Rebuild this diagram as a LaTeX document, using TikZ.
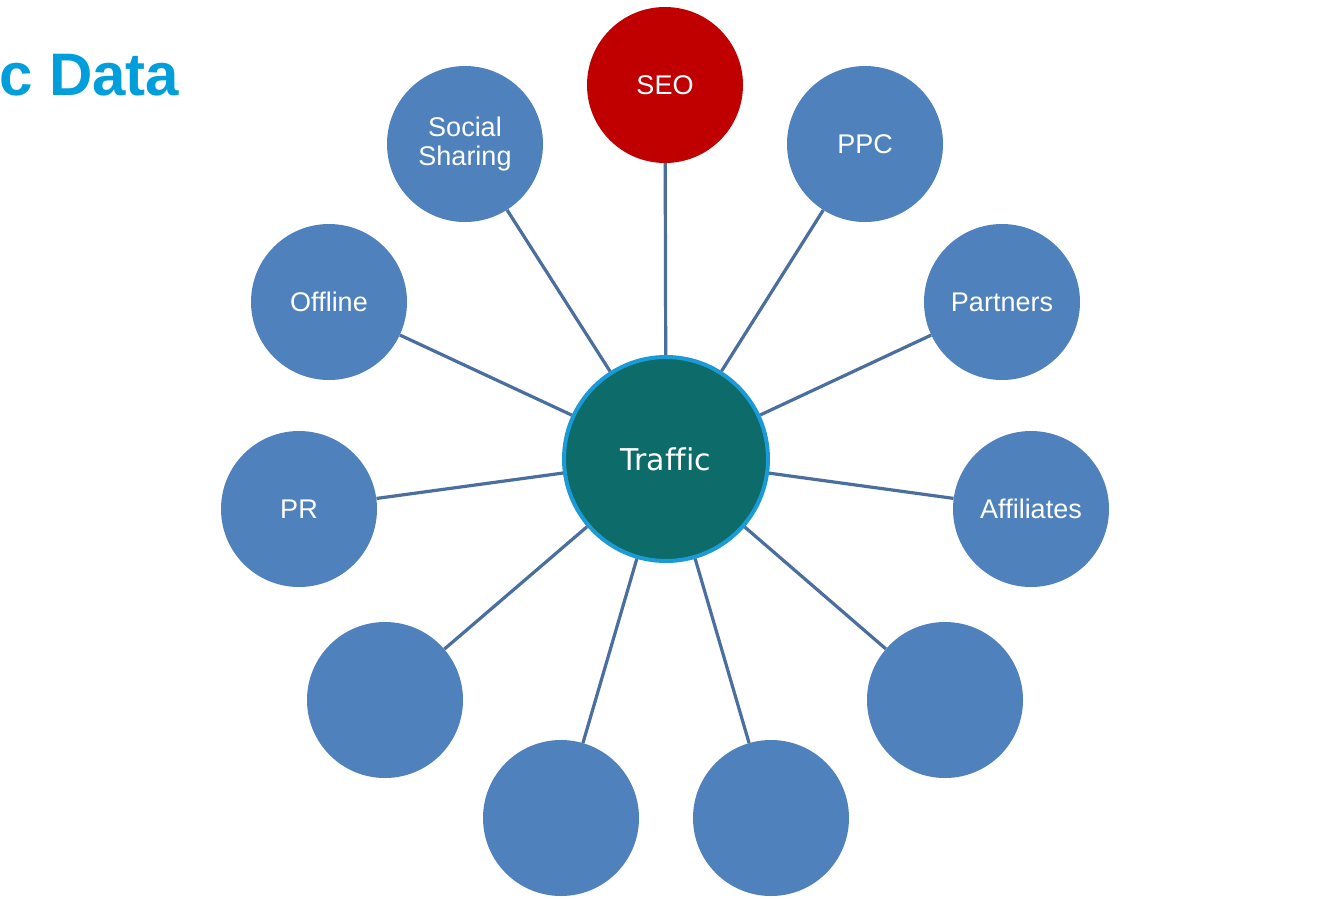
\documentclass[tikz,border=0pt]{standalone}
\usepackage{fontspec}
\setmainfont{Liberation Sans}
\newfontfamily\dejavu[Ligatures=NoCommon]{DejaVu Sans}
\definecolor{titleblue}{HTML}{009FDB}
\definecolor{nodeblue}{HTML}{4F81BD}
\definecolor{seored}{HTML}{C00000}
\definecolor{linkblue}{HTML}{4A6E9E}
\definecolor{hubfill}{HTML}{0D6B69}
\definecolor{hubring}{HTML}{1A9BD7}
\tikzset{
  sat/.style={circle, fill=nodeblue, minimum size=156pt, inner sep=0pt, text=white,
    align=center, font=\fontsize{27}{29}\selectfont},
  seo/.style={sat, fill=seored},
  hub/.style={circle, fill=hubfill, draw=hubring, line width=4pt, minimum size=204pt,
    inner sep=0pt, text=white, font=\dejavu\fontsize{30}{34}\selectfont},
  link/.style={draw=linkblue, line width=3.2pt},
  title/.style={text=titleblue, font=\bfseries\fontsize{60}{70}\selectfont, inner sep=0pt, anchor=base west}
}
\begin{document}
\begin{tikzpicture}[x=1pt,y=-1pt]
\useasboundingbox (0,0) rectangle (1318,898);
\clip (0,0) rectangle (1318,898);
\fill[white] (0,0) rectangle (1318,898);
\node[title] (ttl) at (-1,95) {c Data};
\node[hub] (hub) at (666,459) {Traffic};
\node[seo] (seo) at (665,85) {SEO};
\node[sat] (soc) at (465,144) {Social\\Sharing};
\node[sat] (ppc) at (865,144) {PPC};
\node[sat] (off) at (329,302) {Offline};
\node[sat] (par) at (1002,302) {Partners};
\node[sat] (pr) at (299,509) {PR};
\node[sat] (aff) at (1031,509) {Affiliates};
\node[sat] (bl) at (385,700) {};
\node[sat] (br) at (945,700) {};
\node[sat] (bml) at (561,818) {};
\node[sat] (bmr) at (771,818) {};
\foreach \n in {seo,soc,ppc,off,par,pr,aff,bl,br,bml,bmr}{
  \path[link] (hub) -- (\n);
}
\end{tikzpicture}
\end{document}
